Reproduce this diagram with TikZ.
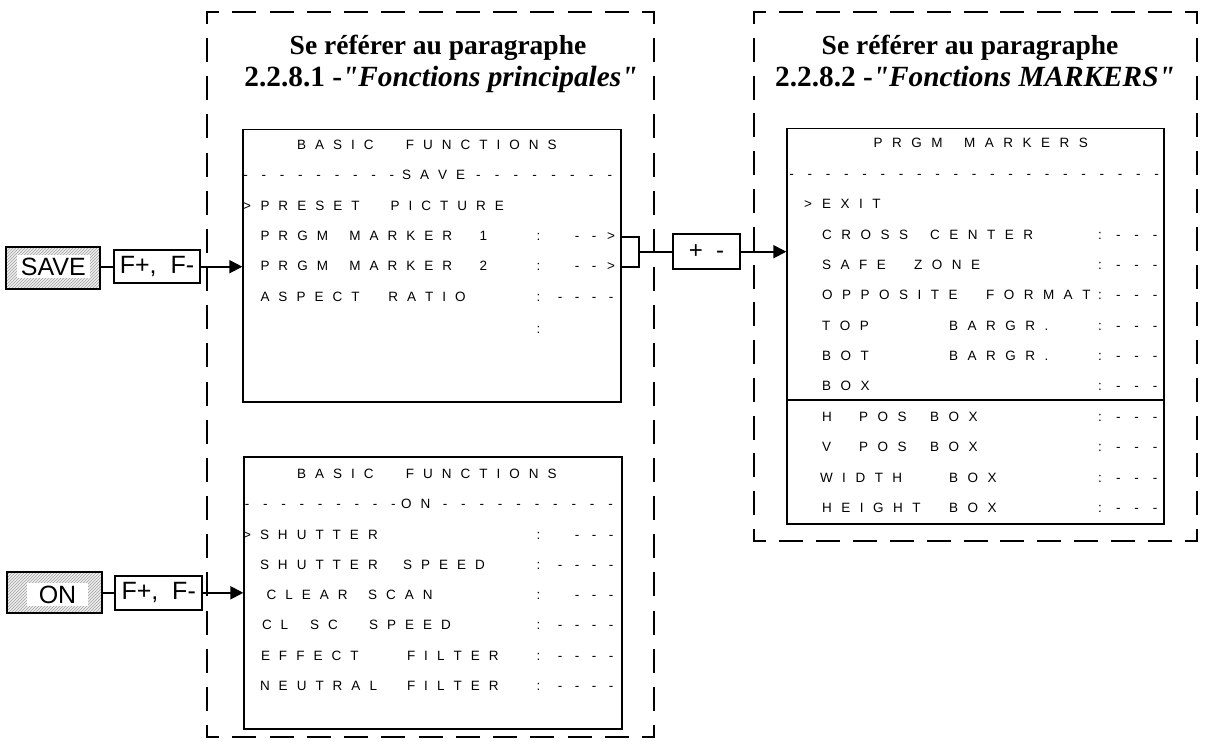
\documentclass[tikz,border=0pt]{standalone}
\usepackage{fontspec}
\setmainfont{Liberation Serif}[Ligatures=TeXOff]
\newfontfamily\osdfont{Liberation Sans}
\usetikzlibrary{arrows.meta,patterns}
\ExplSyntaxOn
\dim_new:N \g_osd_trk_dim
\cs_new_protected:Npn \osd_word:n #1
  { \str_map_inline:nn {#1} { ##1 \hspace{\g_osd_trk_dim} } \hspace{-\g_osd_trk_dim} }
\cs_generate_variant:Nn \osd_word:n { e }
\NewDocumentCommand \osdword { m } { \osd_word:e {#1} }
\NewDocumentCommand \osdtrack { m } { \dim_gset:Nn \g_osd_trk_dim {#1} }
\ExplSyntaxOff
% row of words: prefix, baseline y, list x/word
\newcommand\osdrow[3]{\foreach \xx/\ww [count=\kk] in {#3}{\node[osdw] (#1-\kk) at (\xx,#2) {\osdword{\ww}};}}
% row of single symbols centred on x
\newcommand\osdsyms[3]{\foreach \xx/\ss [count=\kk] in {#3}{\node[osdc] (#1-s\kk) at (\xx,#2) {\ss};}}
% row of dashes: prefix, y, x0, pitch, n
\newcommand\osddashes[5]{\foreach \kk in {1,...,#5}{\node[osdc] (#1-\kk) at ({#3+(\kk-1)*#4},#2) {-};}}
\newcommand\rcol[2]{\osdsyms{#1}{#2}{1100/:,1118.3/-,1136.7/-,1155/-}}
\newcommand\lcolfour[2]{\osdsyms{#1}{#2}{538.5/:,560/-,577/-,594/-,611/-}}
\newcommand\lcolthree[2]{\osdsyms{#1}{#2}{538.5/:,577/-,594/-,611/-}}
% dashed side with a half dash at each corner: from, to, gap
\newcommand\dside[3]{\draw[groupside, dash pattern=on 22pt off #3pt] #1 -- #2;}
\tikzset{
  osdw/.style={font=\osdfont\fontsize{13.5}{16}\selectfont, inner sep=0pt, outer sep=0pt, anchor=base west},
  osdc/.style={font=\osdfont\fontsize{13.5}{16}\selectfont, inner sep=0pt, outer sep=0pt, anchor=base},
  groupside/.style={line width=2pt, line cap=rect, dash phase=11pt},
  title/.style={font=\fontsize{27.5}{30}\selectfont\bfseries, inner sep=0pt, anchor=base},
  titleb/.style={font=\fontsize{29.3}{32}\selectfont\bfseries, inner sep=0pt, anchor=base},
  screen/.style={draw, line width=1.3pt, inner sep=0pt},
  keybox/.style={draw, line width=2pt, inner sep=0pt, preaction={fill=gray!12}, pattern=north east lines, pattern color=gray!75},
  keytext/.style={fill=white, inner sep=0pt, font=\osdfont\fontsize{25}{28}\selectfont},
  fbox/.style={draw, line width=2pt, inner sep=0pt, fill=white, font=\osdfont\fontsize{25}{28}\selectfont},
  conn/.style={line width=2pt},
  arr/.style={line width=2pt, -{Triangle[length=13pt,width=13pt]}},
}
\begin{document}
\begin{tikzpicture}[x=1pt,y=-1pt]
\useasboundingbox (0,0) rectangle (1209,747);
% group frames (dashed)
\dside{(207,12)}{(654,12)}{15.25}
\dside{(207,737)}{(654,737)}{15.25}
\dside{(207,12)}{(207,737)}{16.16}
\dside{(654,12)}{(654,737)}{16.16}
\dside{(754,12)}{(1197,12)}{14.92}
\dside{(754,541)}{(1197,541)}{14.92}
\dside{(754,12)}{(754,541)}{15.79}
\dside{(1197,12)}{(1197,541)}{15.79}
% titles
\node[title] (t1a) at (438,54) {Se référer au paragraphe};
\node[titleb] (t1b) at (441,86) {2.2.8.1 -\textit{"Fonctions principales"}};
\node[title] (t2a) at (970,54) {Se référer au paragraphe};
\node[titleb] (t2b) at (975,86) {2.2.8.2 -\textit{"Fonctions MARKERS"}};
% screens
\node[screen, minimum width=378pt, minimum height=272.5pt] (scrA) at (432,265.75) {};
\node[screen, minimum width=378pt, minimum height=272pt] (scrB) at (433,593) {};
\node[screen, minimum width=377pt, minimum height=395.7pt] (scrC) at (975.5,326.15) {};
\draw[line width=1.3pt] (scrC.west |- 0,400) -- (scrC.east |- 0,400);
% ---- screen A text
\osdtrack{9pt}
\osdrow{a1}{149}{297.2/BASIC,405.9/FUNCTIONS}
\osddashes{a2l}{179}{245.5}{18.3}{9}
\osdrow{a2}{179}{402/SAVE}
\osddashes{a2r}{179}{478.3}{18.8}{8}
\osdsyms{a3}{210}{247/>}
\osdrow{a3}{210}{260.5/PRESET,390.5/PICTURE}
\osdrow{a4}{240}{260.5/PRGM,349.4/MARKER,479.5/1}
\osdsyms{a4}{240}{538.5/:,577/-,594/-,611/>}
\osdrow{a5}{270.7}{260.5/PRGM,349.4/MARKER,479.5/2}
\osdsyms{a5}{270.7}{538.5/:,577/-,594/-,611/>}
\osdrow{a6}{301}{260.5/ASPECT,388.4/RATIO}
\lcolfour{a6}{301}
\osdsyms{a7}{333}{538.5/:}
% ---- screen B text
\osdtrack{9pt}
\osdrow{b1}{478}{297.2/BASIC,405.9/FUNCTIONS}
\osddashes{b2l}{508}{247}{18.3}{9}
\osdrow{b2}{508}{401/ON}
\osddashes{b2r}{508}{445}{18.4}{10}
\osdsyms{b3}{539}{247/>}
\osdrow{b3}{539}{260/SHUTTER}
\lcolthree{b3}{539}
\osdrow{b4}{569}{260/SHUTTER,403/SPEED}
\lcolfour{b4}{569}
\osdrow{b5}{599}{266.7/CLEAR,368/SCAN}
\lcolthree{b5}{599}
\osdrow{b6}{629}{262/CL,310/SC,369/SPEED}
\lcolfour{b6}{629}
\osdrow{b7}{660}{261/EFFECT,407/FILTER}
\lcolfour{b7}{660}
\osdrow{b8}{690}{260/NEUTRAL,407/FILTER}
\lcolfour{b8}{690}
% ---- screen C text
\osdtrack{9.5pt}
\osdrow{c1}{147}{873.7/PRGM,964/MARKERS}
\osddashes{c2}{178}{791.7}{18.25}{21}
\osdsyms{c3}{208}{808/>}
\osdrow{c3}{208}{822/EXIT}
\osdrow{c4}{239}{822/CROSS,930/CENTER}\rcol{c4}{239}
\osdrow{c5}{269}{822/SAFE,914/ZONE}\rcol{c5}{269}
\osdrow{c6}{299}{822/OPPOSITE,986/FORMAT}\rcol{c6}{299}
\osdrow{c7}{330}{822/TOP,949/BARGR.}\rcol{c7}{330}
\osdrow{c8}{360}{822/BOT,949/BARGR.}\rcol{c8}{360}
\osdrow{c9}{390.7}{822/BOX}\rcol{c9}{390.7}
\osdrow{c10}{421}{822/H,859/POS,930/BOX}\rcol{c10}{421}
\osdrow{c11}{451.7}{822/V,859/POS,930/BOX}\rcol{c11}{451.7}
\osdrow{c12}{482}{820/WIDTH,949/BOX}\rcol{c12}{482}
\osdrow{c13}{512}{822/HEIGHT,949/BOX}\rcol{c13}{512}
% ---- SAVE input
\node[keybox, minimum width=94pt, minimum height=42pt] (save) at (53,268) {};
\node[keytext, minimum width=73pt, minimum height=23pt] (savetxt) at (53.3,266.5) {SAVE};
\node[fbox, minimum width=86pt, minimum height=33.3pt] (fsave) at (157,266.7) {F+,\ \ F-};
\draw[conn] (save.east |- fsave.west) -- (fsave.west);
\draw[arr] (fsave.east) -- (scrA.west |- fsave.east);
% ---- ON input
\node[keybox, minimum width=95.3pt, minimum height=41pt] (on) at (54.3,592.8) {};
\node[keytext, minimum width=61.6pt, minimum height=22.7pt] (ontxt) at (57.5,594.7) {ON};
\node[fbox, minimum width=87.3pt, minimum height=34.3pt] (fon) at (158.7,592.8) {F+,\ \ F-};
\draw[conn] (on.east |- fon.west) -- (fon.west);
\draw[arr] (fon.east) -- (scrB.west |- fon.east);
% ---- bracket from PRGM MARKER 1/2 to +/- and markers screen
\coordinate (brk) at (639,251.7);
\node[fbox, minimum width=67pt, minimum height=34.7pt, font=\osdfont\fontsize{24}{26}\selectfont] (pm) at (706.5,251.7) {+\ \ -};
\draw[conn] (scrA.east |- 0,236.7) -- (brk |- 0,236.7) -- (brk |- 0,266.7) -- (scrA.east |- 0,266.7);
\draw[conn] (brk) -- (pm.west);
\draw[arr] (pm.east) -- (scrC.west |- pm.east);
\end{tikzpicture}
\end{document}
